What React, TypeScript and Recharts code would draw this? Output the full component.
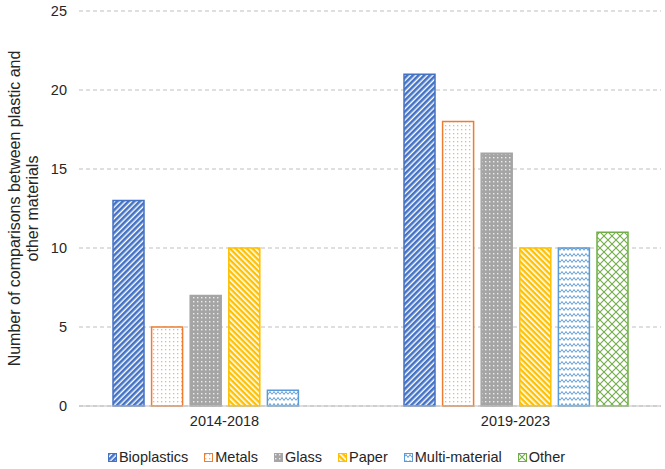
import React from "react";
import { BarChart, Bar, XAxis, YAxis, CartesianGrid, Legend } from "recharts";

// periods on the x axis
const periods = ["2014-2018", "2019-2023"];

// number of comparisons per material, one entry per period
const bioplastics = [13, 21];
const metals = [5, 18];
const glass = [7, 16];
const paper = [10, 10];
const multiMaterial = [1, 10];
const other = [0, 11];

const yTicks = [0, 5, 10, 15, 20, 25];

type TSeries = {
    key: string;
    color: string;
    pattern: string;
    values: number[];
};

const series: TSeries[] = [
    { key: "Bioplastics", color: "#4472C4", pattern: "patBio", values: bioplastics },
    { key: "Metals", color: "#ED7D31", pattern: "patMetals", values: metals },
    { key: "Glass", color: "#A5A5A5", pattern: "patGlass", values: glass },
    { key: "Paper", color: "#FFC000", pattern: "patPaper", values: paper },
    { key: "Multi-material", color: "#5B9BD5", pattern: "patMulti", values: multiMaterial },
    { key: "Other", color: "#70AD47", pattern: "patOther", values: other },
];

const chartData = periods.map((name, i) => {
    const row: { [k: string]: any } = { name };
    series.forEach((s) => {
        row[s.key] = s.values[i];
    });
    return row;
});

if (typeof document !== "undefined") {
    document.body.style.margin = "0";
}

const FONT = "'Liberation Sans', Arial, sans-serif";
const TEXT = "#262626";

function Patterns() {
    return (
        <defs>
            <pattern id="patBio" width="4" height="4" patternUnits="userSpaceOnUse" patternTransform="rotate(-45)">
                <rect width="4" height="4" fill="#fff" />
                <rect width="4" height="2.6" fill="#4472C4" />
            </pattern>
            <pattern id="patMetals" width="4" height="4" patternUnits="userSpaceOnUse">
                <rect width="4" height="4" fill="#fff" />
                <rect x="1" y="1" width="1.3" height="1.3" fill="#ED7D31" opacity="0.6" />
            </pattern>
            <pattern id="patGlass" width="4" height="4" patternUnits="userSpaceOnUse">
                <rect width="4" height="4" fill="#A5A5A5" />
                <rect x="1" y="1" width="1.4" height="1.4" fill="#fff" opacity="0.8" />
            </pattern>
            <pattern id="patPaper" width="4" height="4" patternUnits="userSpaceOnUse" patternTransform="rotate(45)">
                <rect width="4" height="4" fill="#fff" />
                <rect width="4" height="2.4" fill="#FFC000" />
            </pattern>
            <pattern id="patMulti" width="8" height="6" patternUnits="userSpaceOnUse">
                <rect width="8" height="6" fill="#fff" />
                <path d="M0 4.5 L2 1.5 L4 4.5 L6 1.5 L8 4.5" stroke="#5B9BD5" strokeWidth="1" fill="none" />
            </pattern>
            <pattern id="patOther" width="8" height="8" patternUnits="userSpaceOnUse">
                <rect width="8" height="8" fill="#fff" />
                <path d="M0 0 L8 8 M8 0 L0 8" stroke="#70AD47" strokeWidth="1.1" fill="none" />
            </pattern>
        </defs>
    );
}

function YLabel({ viewBox }: any) {
    const cy = viewBox.y + viewBox.height / 2;
    return (
        <text
            transform={`translate(0, ${cy}) rotate(-90)`}
            textAnchor="middle"
            fontSize={16}
            fontFamily={FONT}
            fill={TEXT}
        >
            <tspan x={0} y={20}>Number of comparisons between plastic and</tspan>
            <tspan x={0} y={38}>other materials</tspan>
        </text>
    );
}

function LegendContent() {
    return (
        <div
            style={{
                display: "flex",
                justifyContent: "center",
                alignItems: "center",
                fontFamily: FONT,
                fontSize: 14.5,
                color: TEXT,
                paddingTop: 4,
                paddingLeft: 28,
            }}
        >
            {series.map((s) => (
                <div key={s.key} style={{ display: "flex", alignItems: "center", marginRight: 16 }}>
                    <svg width={9} height={9} style={{ marginRight: 2 }}>
                        <rect x={0.5} y={0.5} width={8} height={8} fill={`url(#${s.pattern})`} stroke={s.color} strokeWidth={1} />
                    </svg>
                    <span>{s.key}</span>
                </div>
            ))}
        </div>
    );
}

export default function App() {
    return (
        <BarChart
            width={665}
            height={469}
            data={chartData}
            margin={{ top: 11, right: 4, left: 0, bottom: 0 }}
            barSize={31}
            barGap={7.6}
        >
            <Patterns />
            <CartesianGrid vertical={false} stroke="#BFBFBF" strokeDasharray="4 3" />
            <XAxis
                dataKey="name"
                height={39}
                tickLine={false}
                axisLine={{ stroke: "#BFBFBF" }}
                tickSize={6}
                tickMargin={4}
                tick={{ fontSize: 14.5, fill: TEXT, fontFamily: FONT }}
            />
            <YAxis
                width={79}
                domain={[0, 25]}
                ticks={yTicks}
                axisLine={false}
                tickLine={false}
                tickSize={6}
                tickMargin={6}
                tick={{ fontSize: 14.5, fill: TEXT, fontFamily: FONT }}
                label={<YLabel />}
            />
            <Legend verticalAlign="bottom" height={24} wrapperStyle={{ bottom: 0 }} content={<LegendContent />} />
            {series.map((s) => (
                <Bar
                    key={s.key}
                    dataKey={s.key}
                    fill={`url(#${s.pattern})`}
                    stroke={s.color}
                    strokeWidth={1.5}
                    isAnimationActive={false}
                />
            ))}
        </BarChart>
    );
}
